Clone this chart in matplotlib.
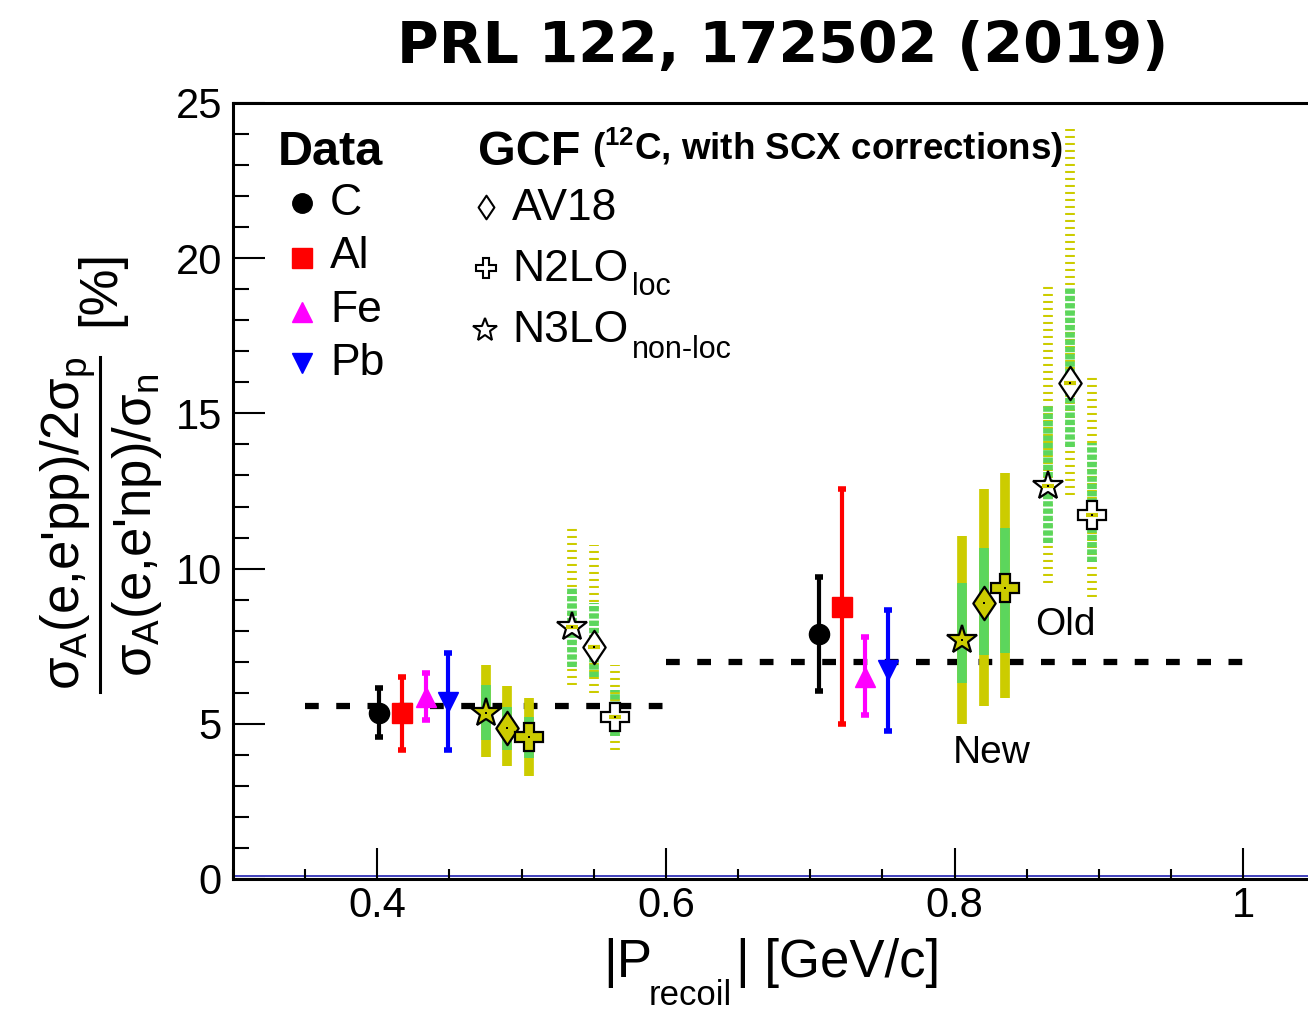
import matplotlib
matplotlib.use('Agg')
import matplotlib.pyplot as plt
from matplotlib.ticker import MultipleLocator, FuncFormatter
from matplotlib.path import Path

plt.rcParams['font.family'] = ['Liberation Sans', 'DejaVu Sans']
plt.rcParams['mathtext.fontset'] = 'custom'
plt.rcParams['mathtext.rm'] = 'Liberation Sans'
plt.rcParams['mathtext.it'] = 'Liberation Sans'
plt.rcParams['mathtext.sf'] = 'Liberation Sans'
plt.rcParams['mathtext.bf'] = 'Liberation Sans:bold'

# ---------------- data ----------------
nuclei = ['C', 'Al', 'Fe', 'Pb']
nuc_colors = ['black', '#ff0000', '#ff00ff', '#0000ff']
nuc_markers = ['o', 's', '^', 'v']

# low-momentum bin
data_lo_x = [0.401, 0.417, 0.4335, 0.449]
data_lo_y = [5.34, 5.34, 5.86, 5.71]
data_lo_min = [4.58, 4.17, 5.12, 4.17]
data_lo_max = [6.15, 6.51, 6.64, 7.27]
# high-momentum bin
data_hi_x = [0.706, 0.722, 0.738, 0.754]
data_hi_y = [7.89, 8.77, 6.52, 6.73]
data_hi_min = [6.07, 4.98, 5.28, 4.77]
data_hi_max = [9.72, 12.55, 7.81, 8.67]

# average lines
avg_lo_x = [0.35, 0.60]
avg_lo_y = 5.58
avg_hi_x = [0.60, 1.00]
avg_hi_y = 7.0

# GCF calculations: order N3LO (star), AV18 (diamond), N2LO (cross)
new_lo_x = [0.475, 0.490, 0.505]
new_lo_y = [5.36, 4.85, 4.57]
new_lo_ylo = [3.92, 3.64, 3.32]
new_lo_yhi = [6.89, 6.22, 5.82]
new_lo_glo = [4.48, 4.16, 3.89]
new_lo_ghi = [6.25, 5.55, 5.23]

old_lo_x = [0.535, 0.550, 0.565]
old_lo_y = [8.13, 7.48, 5.23]
old_lo_ylo = [6.25, 5.98, 4.16]
old_lo_yhi = [11.33, 10.76, 6.89]
old_lo_glo = [6.84, 6.52, 4.61]
old_lo_ghi = [9.37, 8.90, 6.09]

new_hi_x = [0.805, 0.820, 0.835]
new_hi_y = [7.70, 8.90, 9.39]
new_hi_ylo = [4.98, 5.57, 5.82]
new_hi_yhi = [11.05, 12.55, 13.09]
new_hi_glo = [6.32, 7.22, 7.27]
new_hi_ghi = [9.53, 10.65, 11.30]

old_hi_x = [0.865, 0.880, 0.895]
old_hi_y = [12.66, 15.97, 11.73]
old_hi_ylo = [9.55, 12.37, 9.10]
old_hi_yhi = [19.21, 24.15, 16.20]
old_hi_glo = [10.81, 13.93, 10.22]
old_hi_ghi = [15.27, 19.03, 14.04]

x_ticks = [0.4, 0.6, 0.8, 1.0]
y_ticks = [0, 5, 10, 15, 20, 25]

YEL = '#cccc00'
GRN = '#5cd65c'

DIAMOND = Path([(0, 1), (0.67, 0), (0, -1), (-0.67, 0), (0, 1)],
               [Path.MOVETO, Path.LINETO, Path.LINETO, Path.LINETO, Path.CLOSEPOLY])
gcf_markers = ['*', DIAMOND, 'P']
gcf_ms = [22, 24, 19.5]

# ---------------- figure ----------------
W, H = 1308, 1010
fig = plt.figure(figsize=(W / 100, H / 100), dpi=100)
px0, px1 = 233, 1312
ax = fig.add_axes([px0 / W, (H - 879) / H, (px1 - px0) / W, (879 - 103) / H])
ax.set_xlim(0.3, 0.3 + (px1 - px0) / 1443.3)
ax.set_ylim(0, 25)

for s in ax.spines.values():
    s.set_linewidth(2.2)
ax.spines['right'].set_visible(False)

ax.set_xticks(x_ticks)
ax.set_yticks(y_ticks)
ax.xaxis.set_major_formatter(FuncFormatter(lambda v, p: f"{v:g}"))
ax.xaxis.set_minor_locator(MultipleLocator(0.05))
ax.yaxis.set_minor_locator(MultipleLocator(1))
ax.tick_params(axis='x', which='major', direction='in', length=22, width=1.5, labelsize=30, pad=5)
ax.tick_params(axis='x', which='minor', direction='in', length=7, width=1.5)
ax.tick_params(axis='y', which='major', direction='in', length=23, width=1.5, labelsize=30, pad=8)
ax.tick_params(axis='y', which='minor', direction='in', length=11.5, width=1.5)

ax.axhline(0.1, color='#2020b0', lw=1.2, zorder=1)

# average lines
ax.plot(avg_lo_x, [avg_lo_y] * 2, color='k', lw=4.5, dashes=(2.2, 2.8), dash_capstyle='butt', zorder=2)
ax.plot(avg_hi_x, [avg_hi_y] * 2, color='k', lw=4.5, dashes=(2.2, 2.8), dash_capstyle='butt', zorder=2)


def draw_gcf(xs, ys, ylo, yhi, glo, ghi, new):
    for i in range(len(xs)):
        x = xs[i]
        if new:
            ax.plot([x, x], [ylo[i], yhi[i]], color=YEL, lw=7, solid_capstyle='butt', zorder=3)
            ax.plot([x, x], [glo[i], ghi[i]], color=GRN, lw=7, solid_capstyle='butt', zorder=4)
            ax.plot(x, ys[i], marker=gcf_markers[i], ms=gcf_ms[i], mfc=YEL, mec='k', mew=1.6, zorder=6)
        else:
            ax.plot([x, x], [ylo[i], yhi[i]], color=YEL, lw=7, dashes=(0.21, 0.51), dash_capstyle='butt', zorder=3)
            ax.plot([x, x], [glo[i], ghi[i]], color=GRN, lw=7, dashes=(0.55, 0.2), dash_capstyle='butt', zorder=4)
            ax.plot(x, ys[i], marker=gcf_markers[i], ms=gcf_ms[i], mfc='white', mec='k', mew=1.6, zorder=6)
            ax.plot(x, ys[i], marker='_', ms=8, mew=3, color=YEL, zorder=7)
        ax.plot(x, ys[i], marker='s', ms=1.6, color='k', mew=0, zorder=8)


draw_gcf(new_lo_x, new_lo_y, new_lo_ylo, new_lo_yhi, new_lo_glo, new_lo_ghi, True)
draw_gcf(old_lo_x, old_lo_y, old_lo_ylo, old_lo_yhi, old_lo_glo, old_lo_ghi, False)
draw_gcf(new_hi_x, new_hi_y, new_hi_ylo, new_hi_yhi, new_hi_glo, new_hi_ghi, True)
draw_gcf(old_hi_x, old_hi_y, old_hi_ylo, old_hi_yhi, old_hi_glo, old_hi_ghi, False)

# data points
for xs, ys, ymn, ymx in [(data_lo_x, data_lo_y, data_lo_min, data_lo_max),
                         (data_hi_x, data_hi_y, data_hi_min, data_hi_max)]:
    for i in range(4):
        ax.errorbar(xs[i], ys[i], yerr=[[ys[i] - ymn[i]], [ymx[i] - ys[i]]],
                    fmt=nuc_markers[i], color=nuc_colors[i], ms=14.5, elinewidth=3,
                    capsize=3, capthick=4, zorder=9)

# ---------------- overlay for text (pixel coordinates) ----------------
ov = fig.add_axes([0, 0, 1, 1], zorder=10)
ov.set_xlim(0, W)
ov.set_ylim(H, 0)
ov.axis('off')
ov.patch.set_alpha(0)

ov.text(783, 63, 'PRL 122, 172502 (2019)', family='DejaVu Sans', weight='bold', size=41,
        ha='center', va='baseline')

# legend: data
ov.text(278, 165, 'Data', weight='bold', size=35, va='baseline')
leg_y_marker = [203, 258, 312, 363]
leg_y_text = [215, 268, 322, 375]
for i in range(4):
    ov.plot(302, leg_y_marker[i], marker=nuc_markers[i], ms=14, color=nuc_colors[i], ls='none')
    ov.text(330, leg_y_text[i], nuclei[i], size=32, va='baseline')

# legend: GCF
ov.text(478, 165, 'GCF', weight='bold', size=35, va='baseline')
ov.text(592, 160, r'($^{\mathbf{12}}$C, with SCX corrections)', weight='bold', size=26.5, va='baseline')
ov.plot(486, 207, marker=DIAMOND, ms=17, mfc='white', mec='k', mew=1.5, ls='none')
ov.text(512, 220, 'AV18', size=32, va='baseline')
ov.plot(486, 268, marker='P', ms=15, mfc='white', mec='k', mew=1.5, ls='none')
ov.text(512, 281, 'N2LO', size=32, va='baseline')
ov.text(632, 295, 'loc', size=22, va='baseline')
ov.plot(485, 330, marker='*', ms=18, mfc='white', mec='k', mew=1.5, ls='none')
ov.text(512, 342, 'N3LO', size=32, va='baseline')
ov.text(632, 358, 'non-loc', size=22, va='baseline')

ov.text(1035, 635, 'Old', size=28, va='baseline')
ov.text(953, 763, 'New', size=28, va='baseline')

# x title
ov.text(603, 977, '|P', size=38, va='baseline')
ov.text(649, 1005, 'recoil', size=25, va='baseline')
ov.text(736, 977, '| [GeV/c]', size=38, va='baseline')

# y title
ov.text(68, 523, r"$\sigma_{\mathrm{A}}$(e,e'pp)/2$\sigma_{\mathrm{p}}$", size=38, rotation=90,
        ha='center', va='center')
ov.text(137, 525, r"$\sigma_{\mathrm{A}}$(e,e'np)/$\sigma_{\mathrm{n}}$", size=38, rotation=90,
        ha='center', va='center')
ov.plot([100, 100], [357, 692], color='k', lw=2.2)
ov.text(100, 288, '[%]', size=38, rotation=90, ha='center', va='center')

fig.savefig('out.png', dpi=100)
